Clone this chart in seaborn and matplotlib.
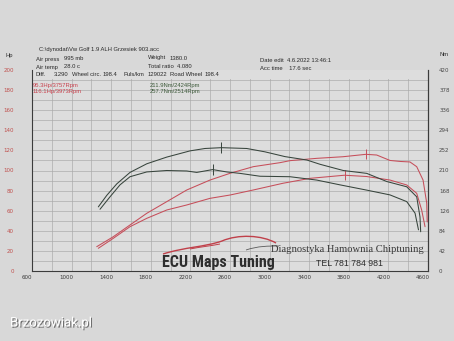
import numpy as np
import pandas as pd
import matplotlib
matplotlib.use('Agg')
import matplotlib.pyplot as plt
import seaborn as sns
from matplotlib.transforms import ScaledTranslation
import matplotlib.patheffects as pe
from matplotlib.path import Path
from matplotlib.patches import PathPatch
from matplotlib import font_manager as fm

# ---------------- data ----------------
tuned_power_rpm = [1254, 1421, 1590, 1759, 1961, 2163, 2398, 2600, 2835, 3105, 3206, 3476,
                   3741, 3973, 4082, 4216, 4320, 4418, 4486, 4550, 4587, 4592]
tuned_power_hp = [24.2, 34.1, 45.8, 57.4, 69.0, 80.6, 90.5, 97.2, 103.8, 107.8, 109.8, 112.1,
                  113.7, 116.1, 115.4, 110.0, 109.0, 108.5, 103.8, 90.5, 67.7, 48.8]

stock_power_rpm = [1270, 1421, 1590, 1759, 1961, 2163, 2398, 2600, 2835, 3135, 3408, 3757,
                   3981, 4216, 4385, 4486, 4536, 4570]
stock_power_hp = [22.6, 32.5, 44.1, 52.4, 60.7, 65.7, 72.3, 75.6, 80.6, 87.3, 92.2, 95.3,
                  94.0, 90.5, 85.6, 77.3, 60.7, 44.1]

tuned_torque_rpm = [1270, 1355, 1456, 1590, 1759, 1961, 2196, 2347, 2514, 2769, 2953, 3156,
                    3375, 3509, 3744, 3981, 4183, 4385, 4486, 4519, 4526]
tuned_torque_nm = [134, 158, 182, 206, 224, 238, 251, 256, 257.7, 256, 249, 239,
                   232, 223, 210, 204, 187, 176, 155, 113, 82]

stock_torque_rpm = [1287, 1388, 1489, 1590, 1759, 1961, 2163, 2264, 2424, 2567, 2701, 2903,
                    3206, 3476, 3711, 3981, 4216, 4385, 4469, 4504]
stock_torque_nm = [129, 155, 180, 197, 207, 210, 209, 206, 211.9, 207, 204, 198,
                   197, 190, 180, 169, 159, 145, 121, 86]

peaks_power = [(3757, 95.3), (3973, 116.1)]
peaks_torque = [(2424, 211.9), (2514, 257.7)]

x_ticks = list(range(600, 4601, 400))
hp_ticks = list(range(0, 201, 20))
nm_ticks = list(range(0, 421, 42))

# ---------------- style ----------------
sns.set_style('white')
plt.rcParams['font.family'] = ['DejaVu Sans']

names = {f.name for f in fm.fontManager.ttflist}
narrow = None
for cand in ['Liberation Sans Narrow', 'DejaVu Sans Condensed', 'Roboto Condensed',
             'Open Sans Condensed', 'Roboto']:
    if cand in names:
        narrow = cand
        break
if narrow is None:
    narrow = 'DejaVu Sans'
logo_size = {'Liberation Sans Narrow': 11.5, 'DejaVu Sans Condensed': 10,
             'Roboto Condensed': 11.5, 'Open Sans Condensed': 11.5,
             'Roboto': 9.8}.get(narrow, 8.5)

BG = '#d8d8d8'
AXBG = '#dddddd'
RED = '#c64e5a'
DARK = '#37443c'
W, H = 454, 341

fig = plt.figure(figsize=(W / 100, H / 100), dpi=100)
fig.patch.set_facecolor(BG)


def fx(px):
    return px / W


def fy(py):
    return 1 - py / H


ax = fig.add_axes([fx(32), fy(271), fx(428) - fx(32), fy(70) - fy(271)])
ax.set_facecolor(AXBG)
ax.set_xlim(600, 4600)
ax.set_ylim(0, 200)
ax.set_xticks(x_ticks)
ax.set_xticks(list(range(600, 4601, 200)), minor=True)
ax.set_yticks(hp_ticks)
ax.set_yticks(list(range(0, 201, 10)), minor=True)
ax.grid(which='both', color='#a8a8a8', lw=0.45)
ax.set_axisbelow(True)
ax.axhspan(190.6, 200.5, color=AXBG, zorder=1, lw=0)

ax.spines['top'].set_visible(False)
for s in ['left', 'bottom', 'right']:
    ax.spines[s].set_color('#3c3c3c')
    ax.spines[s].set_linewidth(0.8)

ax.tick_params(axis='x', which='major', length=2, direction='in', pad=3,
               labelsize=4, labelcolor='#3a3a3a', color='#3c3c3c')
ax.tick_params(axis='x', which='minor', length=0)
ax.tick_params(axis='y', which='both', length=0, pad=13, labelsize=4, labelcolor='#c0504d')
for lbl in ax.get_xticklabels():
    lbl.set_transform(lbl.get_transform() + ScaledTranslation(-5 / 100, 0, fig.dpi_scale_trans))

ax2 = ax.twinx()
ax2.set_ylim(0, 420)
ax2.set_yticks(nm_ticks)
ax2.tick_params(axis='y', length=0, pad=8, labelsize=4, labelcolor='#4a4a4a')
for s in ['top', 'left', 'bottom']:
    ax2.spines[s].set_visible(False)
ax2.spines['right'].set_color('#3c3c3c')
ax2.spines['right'].set_linewidth(0.8)
ax2.grid(False)

# ---------------- curves ----------------
LW = 0.75
sns.lineplot(x=tuned_power_rpm, y=tuned_power_hp, ax=ax, color=RED, lw=LW, sort=False,
             estimator=None, zorder=3)
sns.lineplot(x=stock_power_rpm, y=stock_power_hp, ax=ax, color=RED, lw=LW, sort=False,
             estimator=None, zorder=3)
sns.lineplot(x=tuned_torque_rpm, y=tuned_torque_nm, ax=ax2, color=DARK, lw=LW, sort=False,
             estimator=None, zorder=3)
sns.lineplot(x=stock_torque_rpm, y=stock_torque_nm, ax=ax2, color=DARK, lw=LW, sort=False,
             estimator=None, zorder=3)
for r, v in peaks_power:
    ax.vlines(r, v - 5, v + 5, color=RED, lw=0.7, zorder=3)
for r, v in peaks_torque:
    ax2.vlines(r, v - 11, v + 11, color=DARK, lw=0.7, zorder=3)
ax.set_xlabel('')
ax.set_ylabel('')
ax2.set_ylabel('')

# ---------------- header texts ----------------
HF = dict(fontsize=4.2, family=['Liberation Sans', 'DejaVu Sans'], color='#2a2a2a', va='center')
fig.text(fx(5), fy(55), 'Hp', **HF)
fig.text(fx(439), fy(55), 'Nm', **HF)
fig.text(fx(39), fy(50), 'C:\\dynodat\\Vw Golf 1.9 ALH Grzesiek 903.acc', **HF)
fig.text(fx(36), fy(59), 'Air press', **HF)
fig.text(fx(64), fy(59), '995 mb', **HF)
fig.text(fx(36), fy(67), 'Air temp', **HF)
fig.text(fx(64), fy(67), '28.0 c', **HF)
fig.text(fx(148), fy(58), 'Weight', **HF)
fig.text(fx(170), fy(58), '1380.0', **HF)
fig.text(fx(148), fy(66), 'Total ratio  4.080', **HF)
fig.text(fx(260), fy(61), 'Date edit  4.6.2022 13:46:1', **HF)
fig.text(fx(260), fy(69), 'Acc time    17.6 sec', **HF)
fig.text(fx(36), fy(75), 'Diff.', **HF)
fig.text(fx(54), fy(75), '3.290', **HF)
fig.text(fx(72), fy(75), 'Wheel circ.', **HF)
fig.text(fx(103), fy(75), '198.4', **HF)
fig.text(fx(124), fy(75), 'Puls/km', **HF)
fig.text(fx(148), fy(75), '129022', **HF)
fig.text(fx(170), fy(75), 'Road Wheel', **HF)
fig.text(fx(205), fy(75), '198.4', **HF)

RF = dict(HF)
RF['color'] = '#c8404c'
fig.text(fx(33), fy(85), '95.3Hp/3757Rpm', **RF)
fig.text(fx(33), fy(92), '116.1Hp/3973Rpm', **RF)
GF = dict(HF)
GF['color'] = '#3d5a3a'
fig.text(fx(150), fy(85), '211.9Nm/2424Rpm', **GF)
fig.text(fx(150), fy(92), '257.7Nm/2514Rpm', **GF)

# ---------------- logo ----------------
def bez(pts):
    verts = [(fx(a), fy(b)) for a, b in pts]
    codes = [Path.MOVETO] + [Path.CURVE4] * (len(verts) - 1)
    return Path(verts, codes)

roof = bez([(163, 254), (185, 247), (205, 247), (222, 241),
            (238, 234), (262, 235), (276, 243)])
fig.patches.append(PathPatch(roof, transform=fig.transFigure, fill=False,
                             edgecolor='#c0404a', lw=1.0, zorder=5))
lower = bez([(190, 249), (200, 247), (210, 246), (220, 244)])
fig.patches.append(PathPatch(lower, transform=fig.transFigure, fill=False,
                             edgecolor='#c0404a', lw=0.7, zorder=5))
tail = bez([(246, 250), (258, 246), (268, 246), (279, 246)])
fig.patches.append(PathPatch(tail, transform=fig.transFigure, fill=False,
                             edgecolor='#5a5a5a', lw=0.6, zorder=5))

fig.text(fx(218), fy(262), 'ECU Maps Tuning', fontsize=logo_size, fontweight='bold',
         family=[narrow, 'DejaVu Sans'], color='#2e2e2e',
         ha='center', va='center', zorder=6)
fig.text(fx(347), fy(250), 'Diagnostyka Hamownia Chiptuning', fontsize=7.6,
         family=['Liberation Serif', 'DejaVu Serif'], color='#3a3a3a',
         ha='center', va='center', zorder=6)
fig.text(fx(350), fy(263), 'TEL 781 784 981', fontsize=6.3,
         family=['Liberation Sans', 'DejaVu Sans'], color='#2e2e2e',
         ha='center', va='center', zorder=6)

fig.text(fx(10), fy(323), 'Brzozowiak.pl', fontsize=9.5, color='white',
         family=['Roboto', 'DejaVu Sans'], va='center',
         path_effects=[pe.SimplePatchShadow(offset=(0.8, -0.8), shadow_rgbFace='#444444',
                                            alpha=0.7), pe.Normal()])

fig.savefig('out.png', dpi=100, facecolor=fig.get_facecolor())
